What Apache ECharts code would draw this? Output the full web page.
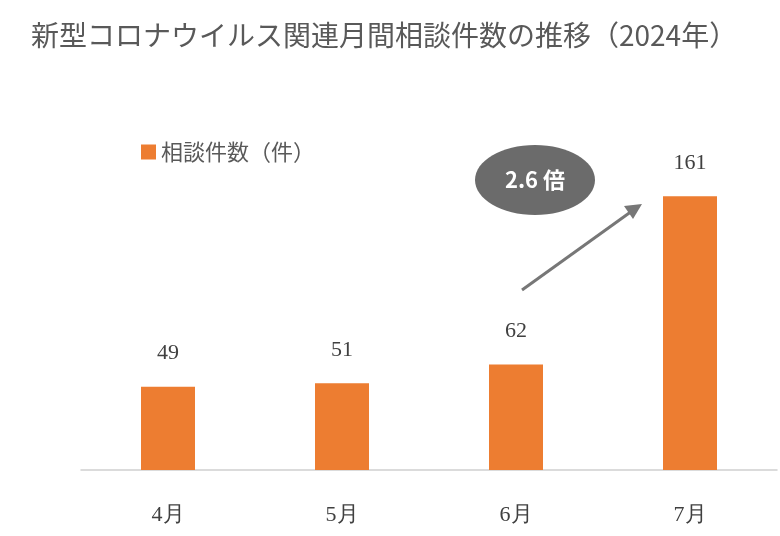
<!DOCTYPE html>
<html><head><meta charset="utf-8">
<script src="https://cdn.jsdelivr.net/npm/echarts@6/dist/echarts.min.js"></script>
<style>html,body{margin:0;background:#fff}#c{width:780px;height:536px}</style>
</head><body><div id="c"></div>
<script>
const categories = ['4月','5月','6月','7月'];
const values = [49, 51, 62, 161];
const seriesName = '相談件数（件）';
const titleText = '新型コロナウイルス関連月間相談件数の推移（2024年）';
const ratioText = '2.6 倍';

const chart = echarts.init(document.getElementById('c'));
const font = '"Noto Sans CJK JP", sans-serif';
chart.setOption({
  animation: false,
  title: { text: titleText, left: 26, top: 16, textStyle: { fontFamily: font, fontSize: 28, fontWeight: 'normal', color: '#595959' } },
  legend: { data: [seriesName], left: 136, top: 136, itemWidth: 15, itemHeight: 15, icon: 'rect',
    textStyle: { fontFamily: font, fontSize: 22, color: '#595959' } },
  grid: { left: 81, right: 3, top: 130, bottom: 66 },
  xAxis: { type: 'category', data: categories,
    axisLine: { lineStyle: { color: '#d0d0d0', width: 1.5 } }, axisTick: { show: false },
    axisLabel: { margin: 34, fontSize: 22, color: '#404040', fontFamily: 'serif' } },
  yAxis: { type: 'value', min: 0, max: 200, show: false },
  series: [{ name: seriesName, type: 'bar', data: values, barWidth: 54,
    itemStyle: { color: '#ed7d31' },
    label: { show: true, position: 'top', distance: 22, fontSize: 22, color: '#404040', fontFamily: 'serif' } }],
  graphic: [
    { type: 'ellipse', shape: { cx: 535, cy: 180, rx: 60, ry: 35 }, style: { fill: '#6b6b6b' } },
    { type: 'text', x: 535, y: 180, style: { text: ratioText, fill: '#fff', font: 'bold 22px "Noto Sans CJK JP"', align: 'center', verticalAlign: 'middle' } },
    { type: 'line', shape: { x1: 522, y1: 290, x2: 632, y2: 211 }, style: { stroke: '#777', lineWidth: 3 } },
    { type: 'polygon', shape: { points: [[642, 204], [624, 206], [633, 219]] }, style: { fill: '#777' } }
  ]
});
</script></body></html>
